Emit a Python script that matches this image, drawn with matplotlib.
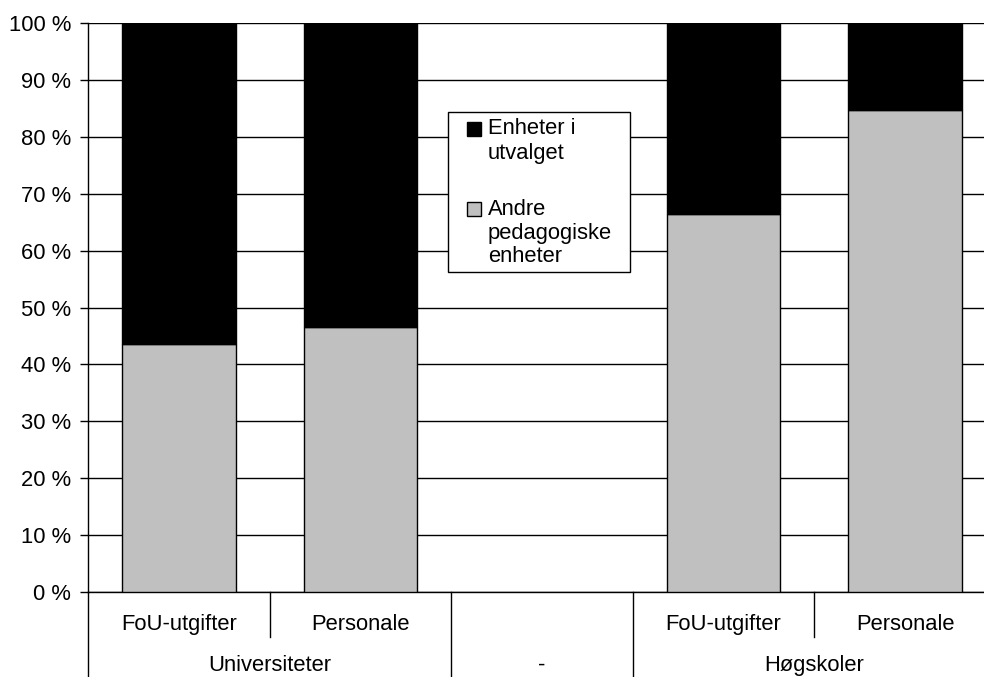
import numpy as np
import matplotlib.pyplot as plt
from matplotlib.patches import Rectangle

plt.rcParams['font.family'] = ['Liberation Sans', 'DejaVu Sans']
FS = 15.8

# data (share in percent)
categories = ['FoU-utgifter', 'Personale', '', 'FoU-utgifter', 'Personale']
groups = ['Universiteter', '-', 'Høgskoler']
group_spans = [(0, 2), (2, 3), (3, 5)]  # category index ranges per group
andre = [43.6, 46.5, np.nan, 66.4, 84.7]
utvalget = [56.4, 53.5, np.nan, 33.6, 15.3]
series_labels = ['Enheter i\nutvalget', 'Andre\npedagogiske\nenheter']
series_colors = ['#000000', '#c0c0c0']

W, H = 984, 677
fig = plt.figure(figsize=(W / 100, H / 100), dpi=100)

# axes placed in pixel coordinates
left, right, top, bottom = 88, 996, 23, 592
ax = fig.add_axes([left / W, (H - bottom) / H, (right - left) / W, (bottom - top) / H])

x = np.arange(len(categories))
andre_arr = np.array(andre)
utv_arr = np.array(utvalget)
ax.bar(x, andre_arr, width=0.625, color=series_colors[1], edgecolor='black', lw=1, zorder=3)
ax.bar(x, utv_arr, bottom=andre_arr, width=0.625, color=series_colors[0],
       edgecolor='black', lw=1, zorder=3)

ax.set_xlim(-0.5, len(categories) - 0.5)
ax.set_ylim(0, 100)
ax.set_yticks(np.arange(0, 101, 10))
ax.set_yticklabels([f'{v} %' for v in range(0, 101, 10)], fontsize=FS)
ax.tick_params(axis='y', length=6, width=1, pad=6)
ax.set_xticks([])
ax.yaxis.grid(True, color='black', lw=1)
ax.set_axisbelow(True)
for s in ['top', 'right']:
    ax.spines[s].set_visible(False)
ax.spines['left'].set_linewidth(1)
ax.spines['bottom'].set_linewidth(1)

# two-level category axis
ph = bottom - top
tr = ax.get_xaxis_transform()
def yf(py):
    return -(py - bottom) / ph

for i, lab in enumerate(categories):
    ax.text(i, yf(630), lab, transform=tr, ha='center', va='baseline', fontsize=FS, clip_on=False)
for (a, b), g in zip(group_spans, groups):
    ax.text((a + b - 1) / 2, yf(671), g, transform=tr, ha='center', va='baseline',
            fontsize=FS, clip_on=False)
    for k in range(a + 1, b):
        ax.plot([k - 0.5, k - 0.5], [0, yf(637)], transform=tr, color='black', lw=1, clip_on=False)
    ax.plot([a - 0.5, a - 0.5], [0, yf(700)], transform=tr, color='black', lw=1, clip_on=False)
ax.plot([len(categories) - 0.5] * 2, [0, yf(700)], transform=tr, color='black', lw=1, clip_on=False)

# legend box drawn in pixel coordinates
def fx(px):
    return px / W
def fy(py):
    return 1 - py / H

fig.patches.append(Rectangle((fx(448), fy(272)), fx(630) - fx(448), fy(112) - fy(272),
                             transform=fig.transFigure, facecolor='white', edgecolor='black',
                             lw=1, zorder=5))
entry_top = [129, 209]
for lab, col, ty in zip(series_labels, series_colors, entry_top):
    fig.patches.append(Rectangle((fx(467), fy(ty + 7)), fx(14), 14 / H,
                                 transform=fig.transFigure, facecolor=col,
                                 edgecolor='black', lw=1, zorder=6))
    for j, line in enumerate(lab.split('\n')):
        fig.text(fx(488), fy(ty + 24 * j), line, ha='left', va='center', fontsize=FS, zorder=7)

fig.savefig('out.png', dpi=100)
